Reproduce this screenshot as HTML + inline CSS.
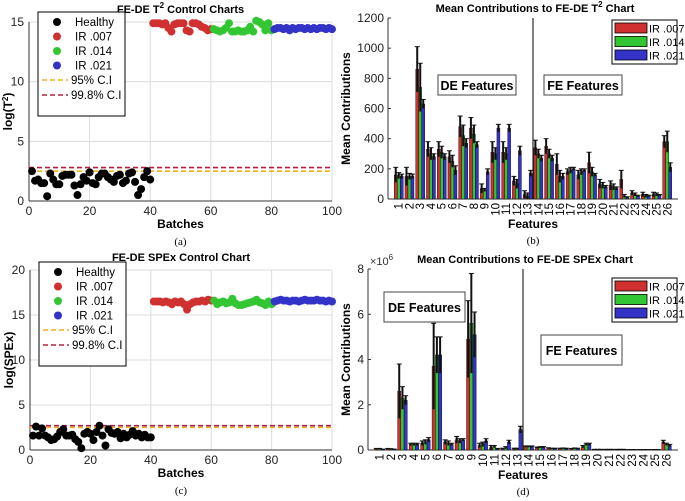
<!DOCTYPE html>
<html><head><meta charset="utf-8"><style>
body{margin:0;background:#fff;}
svg{display:block;font-family:"Liberation Sans",Arial,sans-serif;}
</style></head><body>
<svg id="s" width="685" height="501" viewBox="0 0 685 501"></svg>
<script>
// ---- Data ----
const batchesA_healthy=[2.5,1.7,1.8,1.5,1.5,0.4,2.3,1.8,1.4,1.4,2.1,2.2,2.2,2.2,1.3,0.5,1.4,2.0,1.7,2.4,1.5,1.4,2.0,2.3,2.3,2.0,1.8,1.6,2.1,2.2,1.5,1.7,2.3,2.4,1.6,0.5,1.0,2.0,2.5,1.8];
const batchesA_ir007=[14.9,14.9,14.9,14.8,14.9,14.5,14.2,14.8,14.9,14.9,14.9,14.3,14.2,14.9,14.9,14.8,14.6,14.5,14.3,14.4];
const batchesA_ir014=[14.4,14.3,14.2,14.3,14.5,14.9,14.2,14.2,14.3,14.2,14.2,14.3,14.6,14.2,15.1,15.0,14.8,14.3,14.9,14.3];
const batchesA_ir021=[14.4,14.5,14.5,14.4,14.5,14.3,14.5,14.4,14.5,14.5,14.4,14.5,14.4,14.5,14.4,14.5,14.5,14.4,14.5,14.4];
const limitsA=[2.5,2.8];
const batchesC_healthy=[1.6,2.6,1.6,2.4,1.6,1.4,1.1,1.2,1.5,2.0,2.3,1.6,1.6,1.7,1.2,0.9,0.2,1.8,2.0,1.8,1.1,2.0,2.7,1.6,0.5,2.3,1.9,1.8,2.0,1.3,1.8,1.4,1.7,2.1,1.6,1.8,1.4,1.7,1.4,1.4];
const batchesC_ir007=[16.5,16.5,16.5,16.4,16.5,16.4,16.2,16.5,16.4,16.5,16.2,15.6,16.2,16.4,16.5,16.5,16.6,16.5,16.7,16.6];
const batchesC_ir014=[16.6,16.2,16.4,16.5,16.3,16.4,16.8,16.3,16.1,16.1,16.2,16.3,16.4,16.5,16.7,16.4,16.3,16.1,16.5,16.2];
const batchesC_ir021=[16.5,16.6,16.7,16.6,16.6,16.5,16.6,16.6,16.5,16.6,16.7,16.6,16.6,16.6,16.7,16.6,16.6,16.5,16.6,16.5];
const limitsC=[2.5,2.7];
const features=[1,2,3,4,5,6,7,8,9,10,11,12,13,14,15,16,17,18,19,20,21,22,23,24,25,26];
const t2_ir007=[160,150,860,330,330,280,480,470,70,310,310,120,30,340,350,230,180,160,240,100,90,130,40,30,30,380];
const t2_ir014=[155,150,740,300,310,250,420,430,60,300,300,100,20,300,300,150,190,180,180,90,80,20,30,20,30,380];
const t2_ir021=[150,150,630,280,280,190,370,360,180,470,470,320,170,270,270,150,200,190,160,80,70,10,20,20,25,210];
const t2_err007=[50,60,150,50,50,40,70,70,30,70,70,30,25,50,50,70,20,30,70,30,30,60,15,15,15,40];
const t2_err014=[20,20,160,40,40,40,70,60,10,40,40,30,20,30,30,40,20,20,30,20,20,10,10,10,10,70];
const t2_err021=[15,15,30,20,20,30,30,20,20,25,25,30,20,20,20,20,10,10,10,10,10,5,5,5,5,30];
const spe_ir007=[0.05,0.05,2.6,0.25,0.3,3.7,0.35,0.45,4.9,0.2,0.1,0.05,0.05,0.15,0.1,0.08,0.06,0.05,0.15,0.02,0.02,0.02,0.01,0.01,0.01,0.35];
const spe_ir014=[0.05,0.04,2.3,0.25,0.35,4.2,0.3,0.4,5.6,0.25,0.15,0.1,0.05,0.15,0.12,0.06,0.07,0.07,0.25,0.02,0.02,0.02,0.01,0.01,0.01,0.25];
const spe_ir021=[0.03,0.03,2.2,0.25,0.45,4.2,0.25,0.45,5.1,0.4,0.05,0.35,0.9,0.15,0.12,0.06,0.06,0.06,0.25,0.02,0.02,0.02,0.01,0.01,0.01,0.2];
const spe_err007=[0.02,0.02,1.2,0.05,0.1,1.9,0.1,0.15,1.7,0.1,0.1,0.03,0.03,0.03,0.03,0.02,0.02,0.02,0.05,0.01,0.01,0.01,0.01,0.01,0.01,0.08];
const spe_err014=[0.02,0.02,0.5,0.05,0.1,0.8,0.1,0.1,2.2,0.1,0.05,0.05,0.03,0.03,0.03,0.02,0.02,0.02,0.05,0.01,0.01,0.01,0.01,0.01,0.01,0.05];
const spe_err021=[0.01,0.01,0.2,0.05,0.1,0.8,0.05,0.05,1.0,0.1,0.02,0.08,0.15,0.03,0.03,0.02,0.02,0.02,0.05,0.01,0.01,0.01,0.01,0.01,0.01,0.05];
const colors=['#d03030','#33c633','#3333c8'];

const S=document.getElementById('s');
const NS='http://www.w3.org/2000/svg';
function mk(tag,at,txt){const e=document.createElementNS(NS,tag);for(const k in at)e.setAttribute(k,at[k]);if(txt!==undefined)e.textContent=txt;S.appendChild(e);return e;}
function line(x1,y1,x2,y2,st,w,da){return mk('line',{x1,y1,x2,y2,stroke:st,'stroke-width':w||1,'stroke-dasharray':da||'none'});}

// ---- Scatter charts ----
function scatter(cfg){
  const {L,R,T,B,ymax,yticks,healthy,r7,r14,r21,lim,title,ylab,cap,legT}=cfg;
  const X=v=>L+(R-L)*v/100, Y=v=>B-(B-T)*v/ymax;
  const g=mk('rect',{x:L,y:T,width:R-L,height:B-T,fill:'#fff'});
  
  [0,20,40,60,80,100].forEach(v=>{line(X(v),T,X(v),B,'#dcdcdc',1);const t=mk('text',{x:X(v),y:B+14,'font-size':12,'text-anchor':'middle',fill:'#222'},v);});
  yticks.forEach(v=>{line(L,Y(v),R,Y(v),'#dcdcdc',1);const t=mk('text',{x:L-5,y:Y(v)+4,'font-size':12,'text-anchor':'end',fill:'#222'},v);});
  line(L,T,L,B,'#333',1);line(L,B,R,B,'#333',1);
  const d1=line(L,Y(lim[0]),R,Y(lim[0]),'#f0b020',1.6,'5,3');
  const d2=line(L,Y(lim[1]),R,Y(lim[1]),'#b02040',1.6,'5,3');
  const sets=[[healthy,1,'#000','healthy-point'],[r7,41,colors[0],'ir007-point'],[r14,61,colors[1],'ir014-point'],[r21,81,colors[2],'ir021-point']];
  sets.forEach(([arr,st,c,nm])=>arr.forEach((v,i)=>{const p=mk('circle',{cx:X(st+i),cy:Y(v),r:4,fill:c});}));
  const tt=mk('text',{x:(L+R)/2,y:T-9,'font-size':11,'font-weight':'bold','text-anchor':'middle'});tt.innerHTML=title;
  const xl=mk('text',{x:(L+R)/2,y:B+27,'font-size':12,'font-weight':'bold','text-anchor':'middle'},'Batches');
  const yl=mk('text',{x:0,y:0,'font-size':12,'font-weight':'bold','text-anchor':'middle',transform:`translate(${L-17},${(T+B)/2}) rotate(-90)`});yl.innerHTML=ylab;
  const cp=mk('text',{x:(L+R)/2,y:B+44,'font-size':11,'text-anchor':'middle','font-family':'Liberation Serif,serif'},cap);
  const lx=L+9,ly=legT;
  const lb=mk('rect',{x:lx,y:ly,width:87,height:104,fill:'#fff',stroke:'#000','stroke-width':1});
  const ents=[['Healthy','#000'],['IR .007',colors[0]],['IR .014',colors[1]],['IR .021',colors[2]]];
  ents.forEach(([n,c],i)=>{const yy=ly+10+i*14.5;const p=mk('circle',{cx:lx+19,cy:yy,r:4,fill:c});const t=mk('text',{x:lx+37,y:yy+4,'font-size':11.5},n);});
  [['95% C.I','#f0b020'],['99.8% C.I','#b02040']].forEach(([n,c],i)=>{const yy=ly+68+i*15;line(lx+4,yy,lx+30,yy,c,1.6,'5,3');const t=mk('text',{x:lx+33,y:yy+4,'font-size':11.5},n);});
}
scatter({L:29,R:332,T:22,B:201,ymax:15,yticks:[0,5,10,15],healthy:batchesA_healthy,r7:batchesA_ir007,r14:batchesA_ir014,r21:batchesA_ir021,lim:limitsA,title:'FE-DE T<tspan dy="-5" font-size="8">2</tspan><tspan dy="5"> Control Charts</tspan>',ylab:'log(T<tspan dy="-4" font-size="8">2</tspan><tspan dy="4">)</tspan>',cap:'(a)',legT:12});
scatter({L:30,R:332,T:270,B:450,ymax:20,yticks:[0,5,10,15,20],healthy:batchesC_healthy,r7:batchesC_ir007,r14:batchesC_ir014,r21:batchesC_ir021,lim:limitsC,title:'FE-DE SPEx Control Chart',ylab:'log(SPEx)',cap:'(c)',legT:262});

// ---- Bar charts ----
function bars(cfg){
  const {L,R,T,B,ymax,yticks,vals,errs,title,cap,de,fe,leg,exp}=cfg;
  const X=v=>L+(R-L)*v/27, Y=v=>B-(B-T)*v/ymax, bw=(R-L)/27*0.28;
  line(L,T,L,B,'#333',1);line(L,B,R,B,'#333',1);
  yticks.forEach(v=>{line(L,Y(v),L+3,Y(v),'#333',1);const t=mk('text',{x:L-4,y:Y(v)+4,'font-size':12,'text-anchor':'end',fill:'#222'},v);});
  features.forEach((f,i)=>{
    const t=mk('text',{x:0,y:0,'font-size':11.5,'text-anchor':'end',transform:`translate(${X(f)+4},${B+4}) rotate(-90)`},f);
    vals.forEach((arr,k)=>{const cx=X(f)+(k-1)*bw;const v=arr[i],e=errs[k][i];
      const b=mk('rect',{x:cx-bw/2,y:Y(v),width:bw,height:B-Y(v),fill:colors[k],stroke:'#000','stroke-width':0.4});
      const eb=line(cx,Y(v+e),cx,Y(Math.max(0,v-e)),'#111',2);
      line(cx-2.5,Y(v+e),cx+2.5,Y(v+e),'#111',1);});
  });
  const sep=line(X(13.5),T,X(13.5),B,'#000',1);
  [[de,'DE Features','de-label'],[fe,'FE Features','fe-label']].forEach(([bx,n,nm])=>{const r=mk('rect',{x:bx[0],y:bx[1],width:bx[2],height:bx[3],fill:'#fff',stroke:'#444'});const t=mk('text',{x:bx[0]+bx[2]/2,y:bx[1]+bx[3]/2+5,'font-size':12.5,'font-weight':'bold','text-anchor':'middle'},n);});
  const lb=mk('rect',{x:leg[0],y:leg[1],width:65,height:44,fill:'#fff',stroke:'#000'});
  ['IR .007','IR .014','IR .021'].forEach((n,k)=>{const yy=leg[1]+3+k*13.5;const sw=mk('rect',{x:leg[0]+3,y:yy,width:32,height:10,fill:colors[k],stroke:'#000','stroke-width':0.8});const t=mk('text',{x:leg[0]+37,y:yy+9.5,'font-size':11},n);});
  const tt=mk('text',{x:(L+R)/2+2,y:T-6,'font-size':11,'font-weight':'bold','text-anchor':'middle'});tt.innerHTML=title;
  const xl=mk('text',{x:(L+R)/2,y:B+29,'font-size':12,'font-weight':'bold','text-anchor':'middle'},'Features');
  const yl=mk('text',{x:0,y:0,'font-size':12,'font-weight':'bold','text-anchor':'middle',transform:`translate(${cfg.yx},${(T+B)/2}) rotate(-90)`},'Mean Contributions');
  const cp=mk('text',{x:(L+R)/2,y:B+45,'font-size':11,'text-anchor':'middle','font-family':'Liberation Serif,serif'},cap);
  if(exp){const t=mk('text',{x:L+2,y:T-4,'font-size':11,fill:'#333'});t.innerHTML='×10<tspan dy="-5" font-size="8">6</tspan>';}
}
bars({L:388,R:678,T:18,B:199,ymax:1200,yticks:[0,200,400,600,800,1000,1200],vals:[t2_ir007,t2_ir014,t2_ir021],errs:[t2_err007,t2_err014,t2_err021],title:'Mean Contributions to FE-DE T<tspan dy="-5" font-size="8">2</tspan><tspan dy="5"> Chart</tspan>',cap:'(b)',de:[438,75,78,20],fe:[544,75,78,20],leg:[612,20],yx:350});
bars({L:368,R:678,T:269,B:450,ymax:8,yticks:[0,2,4,6,8],vals:[spe_ir007,spe_ir014,spe_ir021],errs:[spe_err007,spe_err014,spe_err021],title:'Mean Contributions to FE-DE SPEx Chart',cap:'(d)',de:[384,292,81,30],fe:[541,335,81,30],leg:[612,278],yx:350,exp:true});
</script>
</body></html>
